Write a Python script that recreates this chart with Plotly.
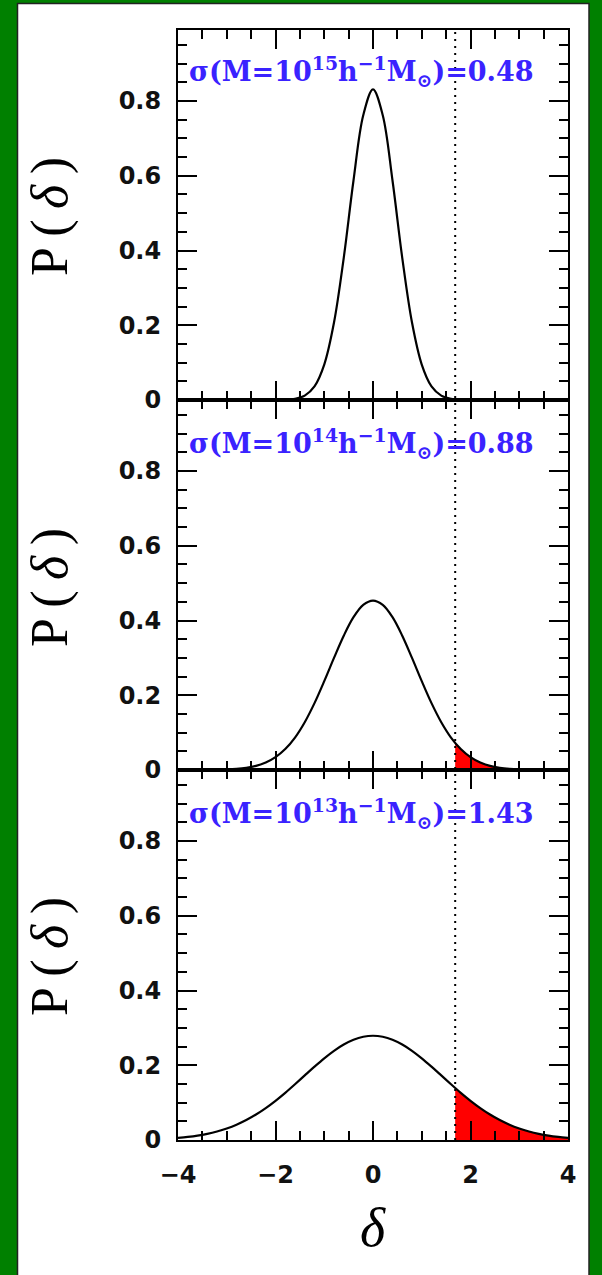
import plotly.graph_objects as go

# ---------------- data ----------------
x_vals = [-4.0, -3.8, -3.6, -3.4, -3.2, -3.0, -2.8, -2.6, -2.4, -2.2,
          -2.0, -1.8, -1.6, -1.4, -1.2, -1.0, -0.8, -0.6, -0.4, -0.2,
          0.0, 0.2, 0.4, 0.6, 0.8, 1.0, 1.2, 1.4, 1.6, 1.8,
          2.0, 2.2, 2.4, 2.6, 2.8, 3.0, 3.2, 3.4, 3.6, 3.8, 4.0]

# sigma(M=1e15) = 0.48
p_m15 = [0, 0, 0, 0, 0, 0, 0, 0, 0, 0,
         0.0001, 0.0007, 0.0032, 0.0118, 0.0365, 0.0949, 0.2072, 0.3805, 0.5873, 0.7620,
         0.8311, 0.7620, 0.5873, 0.3805, 0.2072, 0.0949, 0.0365, 0.0118, 0.0032, 0.0007,
         0.0001, 0, 0, 0, 0, 0, 0, 0, 0, 0, 0]

# sigma(M=1e14) = 0.88
p_m14 = [0.0000, 0.0000, 0.0001, 0.0003, 0.0006, 0.0014, 0.0029, 0.0058, 0.0110, 0.0199,
         0.0343, 0.0560, 0.0868, 0.1279, 0.1789, 0.2377, 0.2999, 0.3593, 0.4088, 0.4418,
         0.4533, 0.4418, 0.4088, 0.3593, 0.2999, 0.2377, 0.1789, 0.1279, 0.0868, 0.0560,
         0.0343, 0.0199, 0.0110, 0.0058, 0.0029, 0.0014, 0.0006, 0.0003, 0.0001, 0.0000, 0.0000]

# sigma(M=1e13) = 1.43
p_m13 = [0.0056, 0.0082, 0.0117, 0.0165, 0.0228, 0.0309, 0.0410, 0.0534, 0.0682, 0.0854,
         0.1049, 0.1263, 0.1492, 0.1728, 0.1962, 0.2185, 0.2386, 0.2555, 0.2683, 0.2763,
         0.2790, 0.2763, 0.2683, 0.2555, 0.2386, 0.2185, 0.1962, 0.1728, 0.1492, 0.1263,
         0.1049, 0.0854, 0.0682, 0.0534, 0.0410, 0.0309, 0.0228, 0.0165, 0.0117, 0.0082, 0.0056]

delta_c = 1.686                     # collapse threshold (dotted line)
p_at_delta_c = {"m14": 0.0723, "m13": 0.1392}

panel_labels = ["σ(M=10<sup>15</sup>h<sup>−1</sup>M<sub>⊙</sub>)=0.48",
                "σ(M=10<sup>14</sup>h<sup>−1</sup>M<sub>⊙</sub>)=0.88",
                "σ(M=10<sup>13</sup>h<sup>−1</sup>M<sub>⊙</sub>)=1.43"]

y_tick_vals = [0, 0.2, 0.4, 0.6, 0.8]
y_tick_text = ["0", "0.2", "0.4", "0.6", "0.8"]
x_tick_vals = [-4, -2, 0, 2, 4]
x_tick_text = ["−4", "−2", "0", "2", "4"]
y_title = "P\u2009(\u2009<i>δ</i>\u2009)"
x_title = "<i>δ</i>"

# ---------------- figure ----------------
W, H = 602, 1275
L, R, T, B = 178, 34, 30, 135
PW, PH = W - L - R, H - T - B


def px_x(p):
    return (p - L) / PW


def px_y(p):
    return (H - B - p) / PH


fig = go.Figure()

series = [p_m15, p_m14, p_m13]
keys = [None, "m14", "m13"]
for i, (ys, key) in enumerate(zip(series, keys)):
    n = i + 1
    xa = "x" if n == 1 else f"x{n}"
    ya = "y" if n == 1 else f"y{n}"
    if key is not None:
        fx = [delta_c] + [x for x in x_vals if x > delta_c]
        fy = [p_at_delta_c[key]] + [y for x, y in zip(x_vals, ys) if x > delta_c]
        fig.add_trace(go.Scatter(x=fx, y=fy, mode="lines", line=dict(width=0, shape="spline"),
                                 fill="tozeroy", fillcolor="#ff0000",
                                 xaxis=xa, yaxis=ya, showlegend=False, hoverinfo="skip"))
    fig.add_trace(go.Scatter(x=x_vals, y=ys, mode="lines",
                             line=dict(color="black", width=2.2, shape="spline"),
                             xaxis=xa, yaxis=ya, showlegend=False))

axis_common = dict(showline=True, linecolor="black", linewidth=2, mirror="ticks",
                   ticks="inside", tickwidth=2, tickcolor="black", showgrid=False,
                   zeroline=False)
tick_font = dict(family="DejaVu Sans", size=24, color="#111111", weight="bold")

domains = [[2 / 3, 1.0], [1 / 3, 2 / 3], [0.0, 1 / 3]]
layout = dict(width=W, height=H, margin=dict(l=L, r=R, t=T, b=B, pad=0),
              paper_bgcolor="#008000", plot_bgcolor="white", showlegend=False)
for i in range(3):
    n = i + 1
    xk = "xaxis" if n == 1 else f"xaxis{n}"
    yk = "yaxis" if n == 1 else f"yaxis{n}"
    ya_name = "y" if n == 1 else f"y{n}"
    layout[xk] = dict(axis_common, range=[-4, 4], anchor=ya_name,
                      tickvals=x_tick_vals, ticktext=x_tick_text, ticklen=19,
                      minor=dict(ticks="inside", dtick=0.5, tick0=0, ticklen=9,
                                 tickwidth=2, tickcolor="black"),
                      showticklabels=(n == 3), ticklabelstandoff=12,
                      tickfont=tick_font)
    if n != 1:
        layout[xk]["matches"] = "x"
    layout[yk] = dict(axis_common, range=[0, 0.99], domain=domains[i],
                      anchor="x" if n == 1 else f"x{n}",
                      tickvals=y_tick_vals, ticktext=y_tick_text, ticklen=19,
                      minor=dict(ticks="inside", dtick=0.05, tick0=0, ticklen=9,
                                 tickwidth=2, tickcolor="black"),
                      ticklabelstandoff=10,
                      tickfont=tick_font)
fig.update_layout(**layout)

# white sheet on green border
fig.add_shape(type="rect", xref="paper", yref="paper", layer="below",
              x0=px_x(17.5), x1=px_x(589), y0=px_y(1290), y1=px_y(3.5),
              fillcolor="white", line=dict(color="#222222", width=1.5))

# dotted threshold line across all panels
fig.add_shape(type="line", xref="x3", yref="paper", x0=delta_c, x1=delta_c,
              y0=0, y1=1, line=dict(color="black", width=2, dash="2px,5px"))

# panel labels
label_y = [72, 443, 813]
for txt, yp in zip(panel_labels, label_y):
    fig.add_annotation(text=txt, xref="paper", yref="paper", x=px_x(361), y=px_y(yp),
                       showarrow=False, xanchor="center", yanchor="middle",
                       font=dict(family="DejaVu Serif", size=27, color="#3a22ff",
                                 weight="bold"))

# y titles
for yp in [217, 588, 957]:
    fig.add_annotation(text=y_title, xref="paper", yref="paper", x=px_x(50), y=px_y(yp),
                       showarrow=False, textangle=-90, xanchor="center", yanchor="middle",
                       font=dict(family="Liberation Serif", size=52, color="black"))

# x title
fig.add_annotation(text=x_title, xref="paper", yref="paper", x=0.5, y=px_y(1228),
                   showarrow=False, xanchor="center", yanchor="middle",
                   font=dict(family="Liberation Serif", size=54, color="black"))

fig.write_html("out.html")
